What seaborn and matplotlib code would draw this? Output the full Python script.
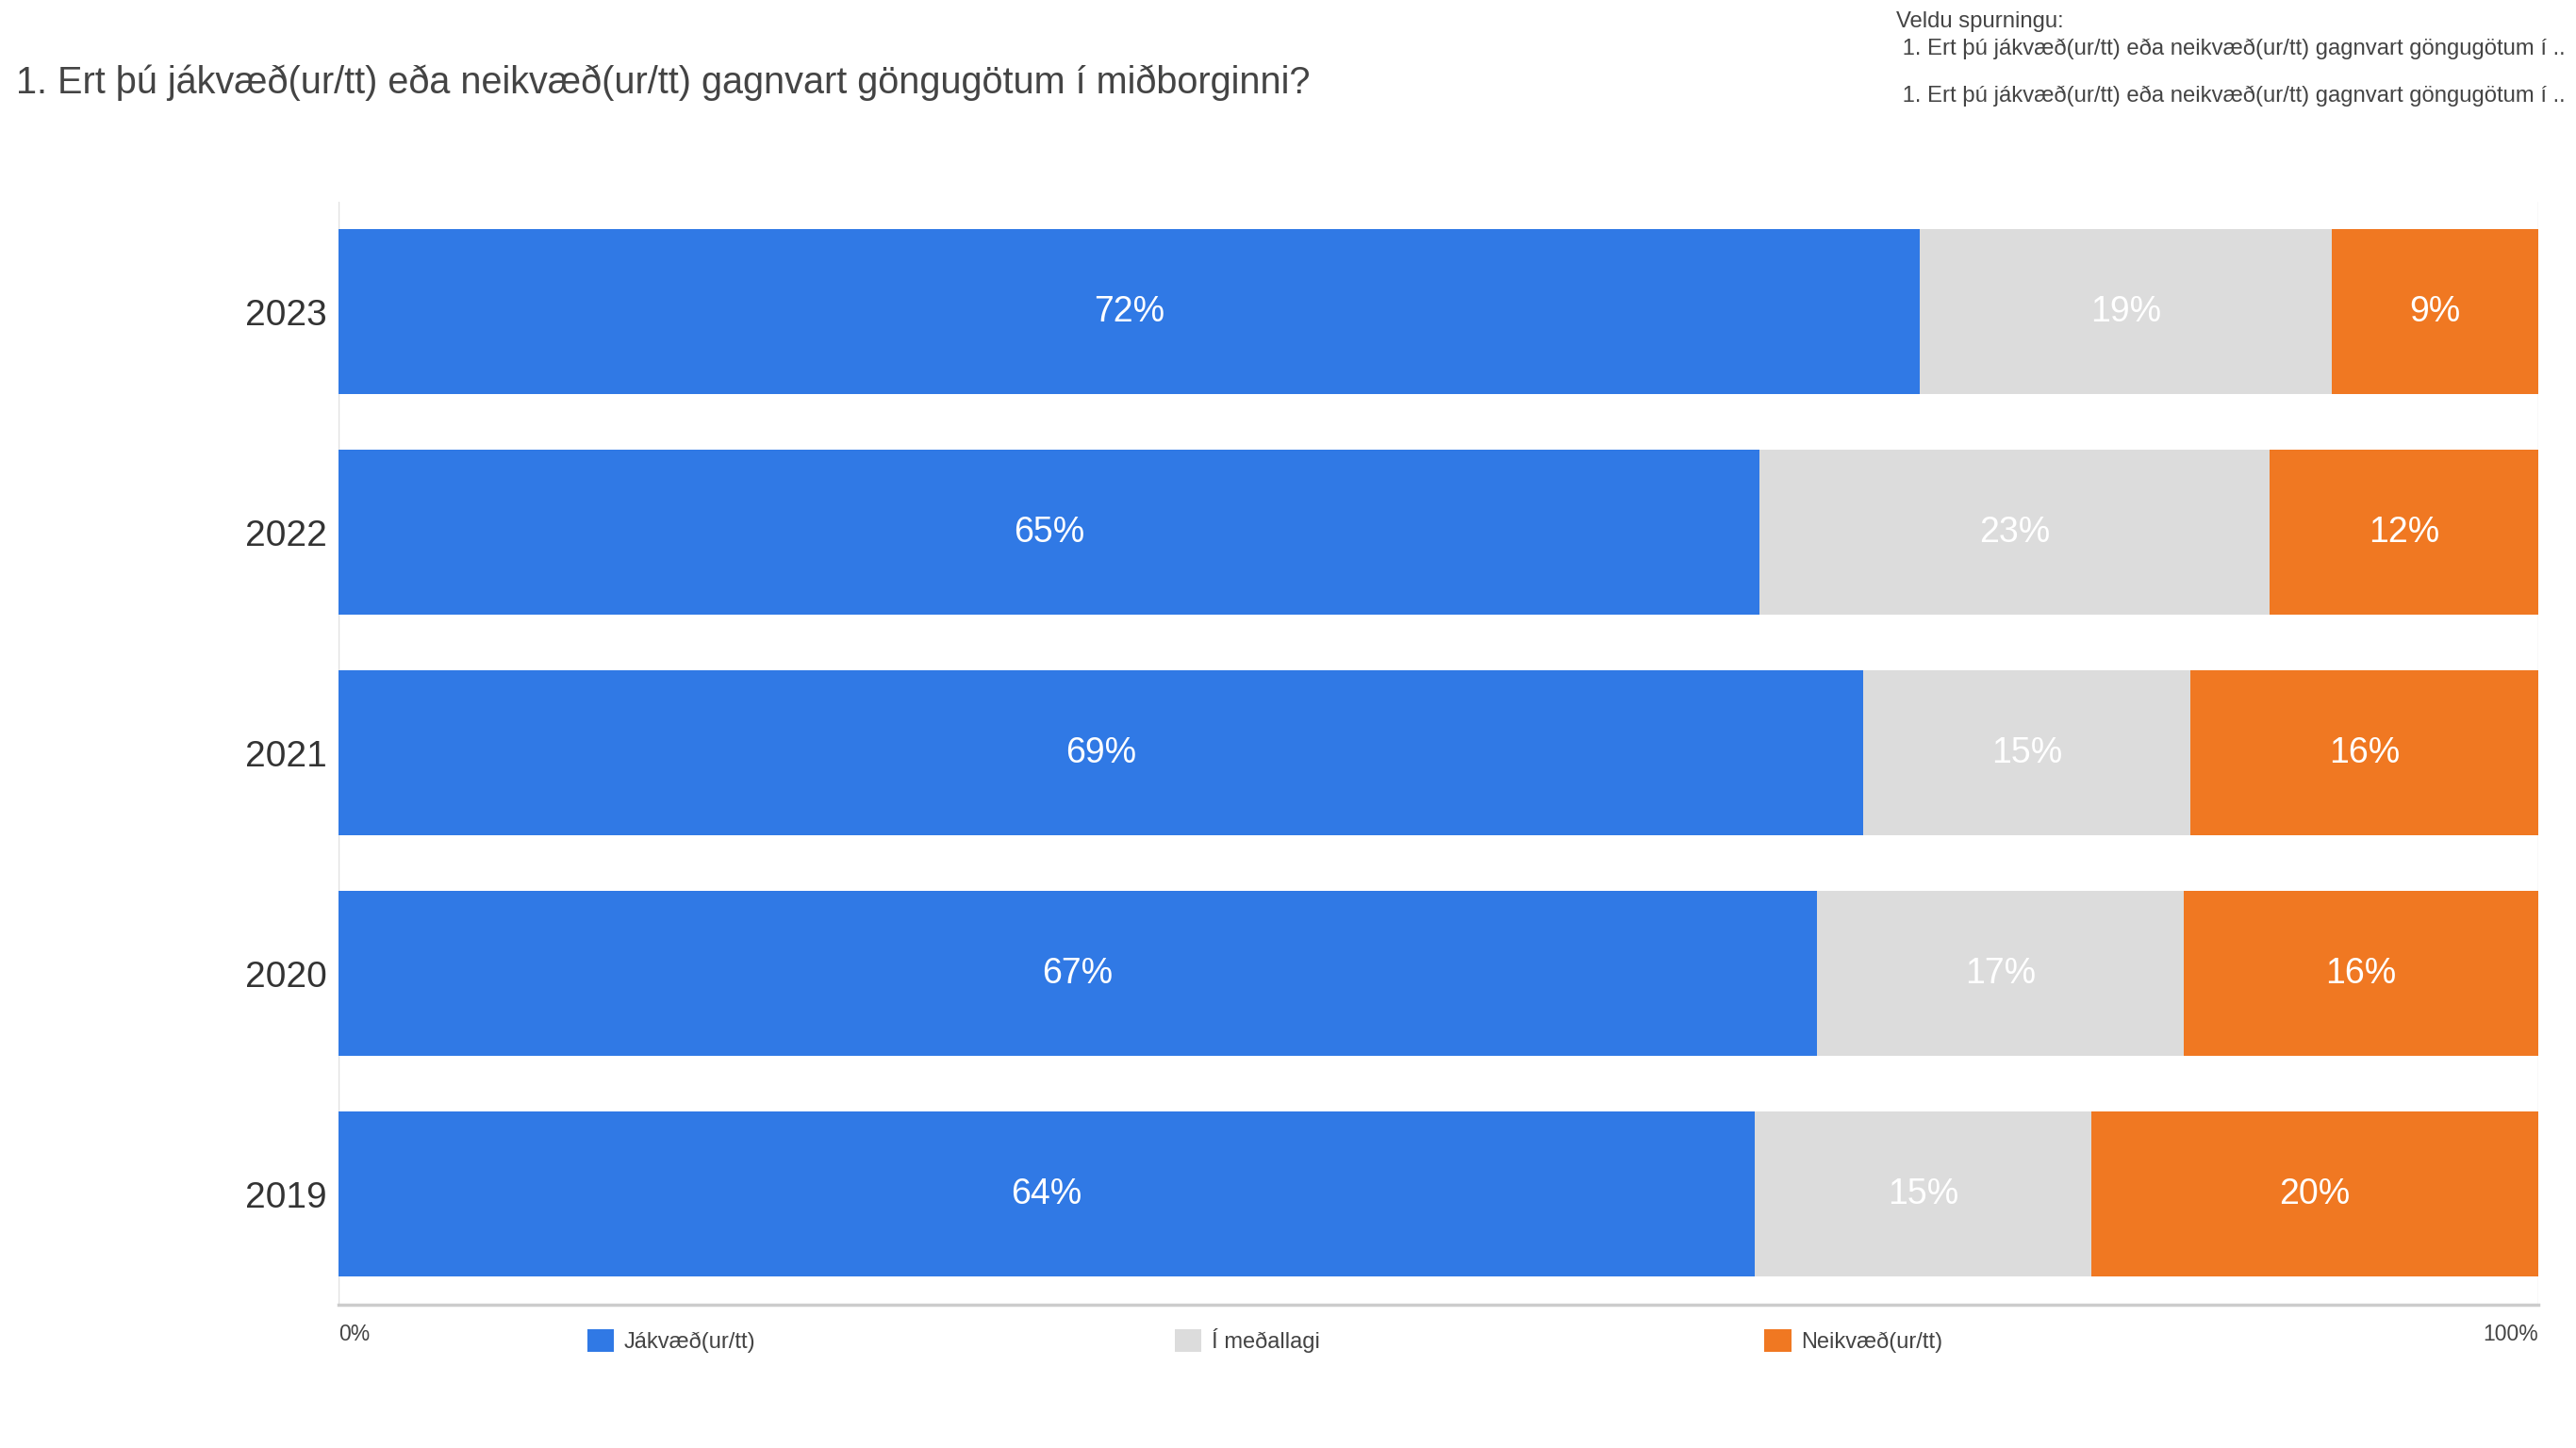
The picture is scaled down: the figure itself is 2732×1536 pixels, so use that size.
import pandas as pd
import matplotlib.pyplot as plt
import seaborn as sns
from matplotlib.patches import Patch

# data
years = ['2023', '2022', '2021', '2020', '2019']
jakvaed = [71.9, 64.6, 69.3, 67.2, 64.4]
medallagi = [18.7, 23.2, 14.9, 16.7, 15.3]
neikvaed = [9.4, 12.2, 15.8, 16.1, 20.3]
series_names = ['Jákvæð(ur/tt)', 'Í meðallagi', 'Neikvæð(ur/tt)']
colors = ['#3079e5', '#dcdcdc', '#f07822']

title = '1. Ert þú jákvæð(ur/tt) eða neikvæð(ur/tt) gagnvart göngugötum í miðborginni?'
picker_head = 'Veldu spurningu:'
picker_item = ' 1. Ert þú jákvæð(ur/tt) eða neikvæð(ur/tt) gagnvart göngugötum í ..'

df = pd.DataFrame({'ar': years, 'j': jakvaed, 'm': medallagi, 'n': neikvaed})
df['c1'] = df['j']
df['c2'] = df['j'] + df['m']
df['c3'] = df['c2'] + df['n']

sns.set_theme(style='white')
plt.rcParams['font.family'] = ['Liberation Sans', 'DejaVu Sans']

fig = plt.figure(figsize=(27.32, 15.36), dpi=100)
ax = fig.add_axes([0.1314, 0.0992, 0.8539, 0.7618])

# stacked bars: draw cumulative totals from the back to the front
for col, c in zip(['c3', 'c2', 'c1'], colors[::-1]):
    sns.barplot(data=df, x=col, y='ar', order=years, color=c, orient='h',
                width=0.75, saturation=1, ax=ax, linewidth=0)

# labels in the middle of each segment
for i, row in df.iterrows():
    starts = [0, row['c1'], row['c2']]
    for s, v in zip(starts, [row['j'], row['m'], row['n']]):
        ax.text(s + v / 2, i, f'{v:.0f}%', ha='center', va='center',
                color='white', fontsize=27)

ax.set_xlim(0, 100)
ax.set_ylim(4.5, -0.5)
ax.set_xlabel('')
ax.set_ylabel('')
ax.set_xticks([0, 100])
ax.set_xticklabels(['0%', '100%'], fontsize=16.5, color='#444444')
xt = ax.get_xticklabels()
xt[0].set_ha('left')
xt[1].set_ha('right')
ax.tick_params(axis='x', length=7, width=1, color='#d9d9d9', pad=8)
ax.tick_params(axis='y', length=0, pad=9, labelsize=28, labelcolor='#333333')
ax.grid(axis='x', color='#e0e0e0', linewidth=1)
ax.set_axisbelow(True)
for side in ['top', 'right', 'left']:
    ax.spines[side].set_visible(False)
ax.spines['bottom'].set_color('#cccccc')
ax.spines['bottom'].set_linewidth(2.5)

# legend entries spaced evenly along the bottom
for name, c, xpos in zip(series_names, colors, [0.228, 0.456, 0.685]):
    fig.legend(handles=[Patch(facecolor=c, edgecolor='none', label=name)],
               loc='center left', bbox_to_anchor=(xpos, 0.074), frameon=False,
               fontsize=17, handlelength=1.2, handleheight=1.2,
               handletextpad=0.45, borderpad=0, borderaxespad=0,
               labelcolor='#444444')

fig.text(0.0064, 0.943, title, fontsize=28.5, color='#444444', va='center', ha='left')
fig.text(0.736, 0.985, picker_head, fontsize=17.2, color='#444444', va='center')
fig.text(0.736, 0.966, picker_item, fontsize=17.2, color='#444444', va='center')
fig.text(0.736, 0.934, picker_item, fontsize=17.2, color='#444444', va='center')

fig.savefig('out.png', dpi=100)
print('saved')
